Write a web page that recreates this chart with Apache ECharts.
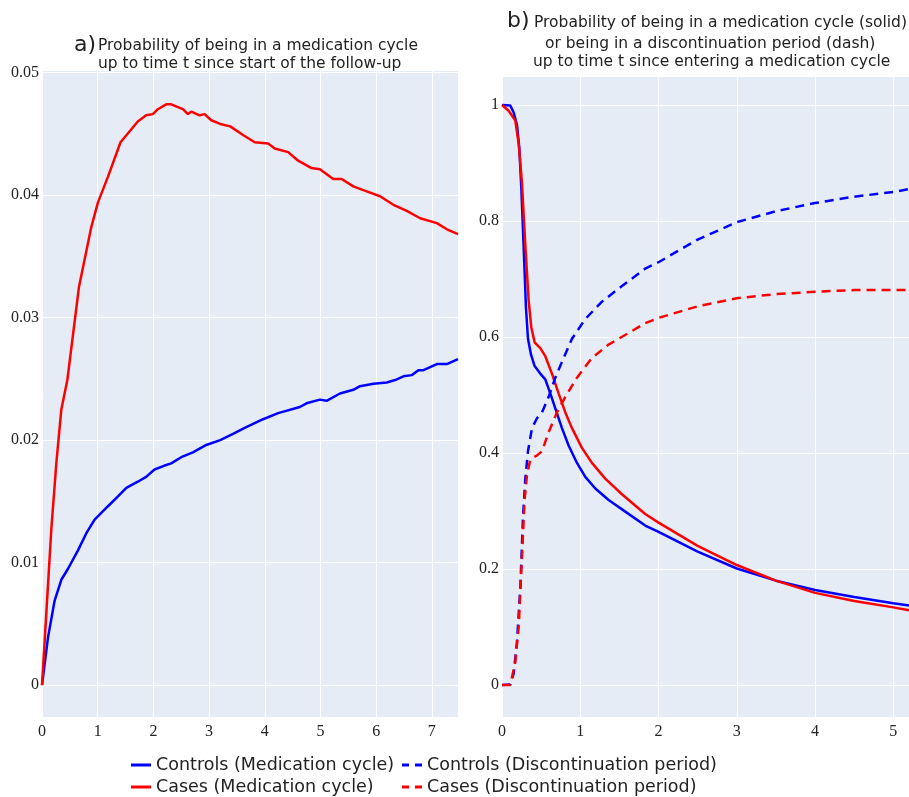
<!DOCTYPE html>
<html>
<head>
<meta charset="utf-8">
<script src="https://cdn.jsdelivr.net/npm/echarts@6/dist/echarts.min.js"></script>
<style>
  html, body { margin: 0; padding: 0; background: #fff; }
  #chart { width: 909px; height: 797px; }
</style>
</head>
<body>
<div id="chart"></div>
<script>
// panel a) - probability of being in a medication cycle since start of follow-up
const aCtrlT = [0, 0.108, 0.227, 0.347, 0.467, 0.646, 0.796, 0.945, 1.185, 1.364, 1.514, 1.72, 1.87, 2.02, 2.19, 2.32, 2.50, 2.71, 2.95, 3.20, 3.43, 3.64, 3.97, 4.24, 4.63, 4.75, 4.99, 5.11, 5.35, 5.59, 5.71, 5.95, 6.19, 6.34, 6.49, 6.64, 6.76, 6.85, 7.09, 7.27, 7.47];
const aCtrlV = [0, 0.0039, 0.0069, 0.0086, 0.0095, 0.0110, 0.0124, 0.0135, 0.0146, 0.0154, 0.0161, 0.0166, 0.0170, 0.0176, 0.0179, 0.0181, 0.0186, 0.0190, 0.0196, 0.0200, 0.0205, 0.0210, 0.0217, 0.0222, 0.0227, 0.0230, 0.0233, 0.0232, 0.0238, 0.0241, 0.0244, 0.0246, 0.0247, 0.0249, 0.0252, 0.0253, 0.0257, 0.0257, 0.0262, 0.0262, 0.0266];
const aCaseT = [0, 0.078, 0.167, 0.257, 0.347, 0.455, 0.664, 0.886, 1.005, 1.185, 1.41, 1.72, 1.87, 1.99, 2.08, 2.23, 2.32, 2.53, 2.62, 2.68, 2.83, 2.92, 3.04, 3.20, 3.38, 3.61, 3.82, 4.06, 4.18, 4.42, 4.60, 4.84, 4.99, 5.23, 5.38, 5.59, 5.77, 6.07, 6.31, 6.55, 6.79, 7.09, 7.27, 7.47];
const aCaseV = [0, 0.0059, 0.0127, 0.0181, 0.0225, 0.0249, 0.0325, 0.0374, 0.0394, 0.0415, 0.0443, 0.0460, 0.0465, 0.0466, 0.0470, 0.0474, 0.0474, 0.0470, 0.0466, 0.0468, 0.0465, 0.0466, 0.0461, 0.0458, 0.0456, 0.0449, 0.0443, 0.0442, 0.0438, 0.0435, 0.0428, 0.0422, 0.0421, 0.0413, 0.0413, 0.0407, 0.0404, 0.0399, 0.0392, 0.0387, 0.0381, 0.0377, 0.0372, 0.0368];

// panel b) - medication cycle (solid) / discontinuation period (dash)
const bCtrlMedT = [0, 0.106, 0.149, 0.191, 0.221, 0.246, 0.276, 0.306, 0.332, 0.370, 0.417, 0.489, 0.553, 0.617, 0.681, 0.766, 0.851, 0.958, 1.064, 1.192, 1.362, 1.575, 1.83, 2.0, 2.5, 3.0, 3.5, 4.0, 4.5, 5.0, 5.2];
const bCtrlMedV = [1.0, 0.999, 0.987, 0.966, 0.926, 0.859, 0.758, 0.651, 0.597, 0.570, 0.550, 0.537, 0.527, 0.503, 0.477, 0.443, 0.413, 0.383, 0.359, 0.339, 0.319, 0.299, 0.275, 0.264, 0.230, 0.201, 0.180, 0.164, 0.152, 0.141, 0.137];
const bCaseMedT = [0, 0.085, 0.17, 0.213, 0.255, 0.298, 0.34, 0.374, 0.417, 0.489, 0.553, 0.638, 0.723, 0.809, 0.894, 1.021, 1.149, 1.319, 1.532, 1.83, 2.0, 2.5, 3.0, 3.5, 4.0, 4.5, 5.0, 5.2];
const bCaseMedV = [1.0, 0.990, 0.973, 0.933, 0.866, 0.758, 0.664, 0.617, 0.591, 0.581, 0.567, 0.537, 0.503, 0.470, 0.443, 0.409, 0.383, 0.356, 0.329, 0.295, 0.280, 0.240, 0.207, 0.180, 0.159, 0.145, 0.134, 0.129];
const bCtrlDisT = [0, 0.106, 0.149, 0.191, 0.234, 0.268, 0.298, 0.332, 0.383, 0.447, 0.511, 0.596, 0.681, 0.766, 0.894, 1.064, 1.277, 1.533, 1.83, 2.0, 2.5, 3.0, 3.5, 4.0, 4.5, 5.0, 5.2];
const bCtrlDisV = [0, 0.001, 0.02, 0.074, 0.168, 0.289, 0.356, 0.403, 0.443, 0.460, 0.470, 0.497, 0.530, 0.557, 0.597, 0.631, 0.661, 0.688, 0.718, 0.729, 0.768, 0.798, 0.817, 0.831, 0.842, 0.850, 0.855];
const bCaseDisT = [0, 0.106, 0.17, 0.213, 0.255, 0.289, 0.319, 0.362, 0.447, 0.511, 0.596, 0.702, 0.809, 0.958, 1.149, 1.362, 1.617, 1.83, 2.0, 2.5, 3.0, 3.5, 4.0, 4.5, 5.0, 5.2];
const bCaseDisV = [0, 0, 0.04, 0.10, 0.22, 0.32, 0.362, 0.389, 0.396, 0.403, 0.436, 0.470, 0.497, 0.530, 0.564, 0.587, 0.607, 0.624, 0.633, 0.653, 0.667, 0.674, 0.678, 0.681, 0.681, 0.681];

function pairs(t, v) {
    return t.map(function (x, i) { return [x, v[i]]; });
}

const chart = echarts.init(document.getElementById('chart'));

const labelFont = { fontFamily: 'Liberation Serif', fontSize: 16, color: '#222' };
function xAxisOf(idx, max) {
    return {
        type: 'value', gridIndex: idx, min: 0, max: max,
        axisLine: { show: false }, axisTick: { show: false },
        axisLabel: Object.assign({ margin: 7, showMaxLabel: false }, labelFont),
        splitLine: { show: true, lineStyle: { color: '#fff', width: 1 } }
    };
}
function yAxisOf(idx, min, max) {
    return {
        type: 'value', gridIndex: idx, min: min, max: max,
        axisLine: { show: false }, axisTick: { show: false },
        axisLabel: Object.assign({ margin: 3, showMinLabel: false, showMaxLabel: false }, labelFont),
        splitLine: { show: true, lineStyle: { color: '#fff', width: 1 } }
    };
}
function line(name, xi, t, v, color, dashed) {
    return {
        name: name, type: 'line', xAxisIndex: xi, yAxisIndex: xi,
        data: pairs(t, v), showSymbol: false, symbol: 'none', smooth: false,
        lineStyle: { color: color, width: 2.5, type: dashed ? [9, 6] : 'solid' },
        itemStyle: { color: color }
    };
}
function titleOf(text, left, top, size, lh) {
    return {
        text: text, left: left, top: top, padding: 0, textAlign: 'left',
        textStyle: { fontFamily: 'DejaVu Sans', fontWeight: 'normal', fontSize: size, color: '#222', lineHeight: lh }
    };
}
const legendText = { fontFamily: 'DejaVu Sans', fontSize: 17.5, color: '#222' };
const dashIcon = 'path://M0,0h7v3h-7z M13,0h7v3h-7z';
function legendOf(name, left, top, dashed) {
    return {
        orient: 'horizontal', left: left, top: top, padding: 0,
        itemWidth: 20, itemHeight: 3,
        icon: dashed ? dashIcon : 'rect', textStyle: legendText,
        data: [name]
    };
}

const option = {
    backgroundColor: '#fff',
    animation: false,
    title: [
        titleOf('a)', 74, 34, 22, 22),
        titleOf('Probability of being in a medication cycle\nup to time t since start of the follow-up', 98, 37, 15.5, 18),
        titleOf('b)', 507, 10, 22, 22),
        titleOf('Probability of being in a medication cycle (solid)', 534, 14, 15.5, 18),
        titleOf('or being in a discontinuation period (dash)', 545, 35, 15.5, 18),
        titleOf('up to time t since entering a medication cycle', 533, 53, 15.5, 18)
    ],
    legend: [
        legendOf('Controls (Medication cycle)', 131, 756, false),
        legendOf('Cases (Medication cycle)', 131, 778, false),
        legendOf('Controls (Discontinuation period)', 402, 756, true),
        legendOf('Cases (Discontinuation period)', 402, 778, true)
    ],
    grid: [
        { left: 42, top: 70, width: 416, height: 647, backgroundColor: '#e5ecf6', show: true, borderWidth: 0 },
        { left: 502, top: 76, width: 407, height: 641, backgroundColor: '#e5ecf6', show: true, borderWidth: 0 }
    ],
    xAxis: [xAxisOf(0, 7.47), xAxisOf(1, 5.2)],
    yAxis: [yAxisOf(0, -0.0026, 0.0502), yAxisOf(1, -0.055, 1.05)],
    series: [
        line('Controls (Medication cycle)', 0, aCtrlT, aCtrlV, '#0000ff', false),
        line('Cases (Medication cycle)', 0, aCaseT, aCaseV, '#ff0000', false),
        line('Controls (Medication cycle)', 1, bCtrlMedT, bCtrlMedV, '#0000ff', false),
        line('Cases (Medication cycle)', 1, bCaseMedT, bCaseMedV, '#ff0000', false),
        line('Controls (Discontinuation period)', 1, bCtrlDisT, bCtrlDisV, '#0000ff', true),
        line('Cases (Discontinuation period)', 1, bCaseDisT, bCaseDisV, '#ff0000', true)
    ]
};
chart.setOption(option);
</script>
</body>
</html>
